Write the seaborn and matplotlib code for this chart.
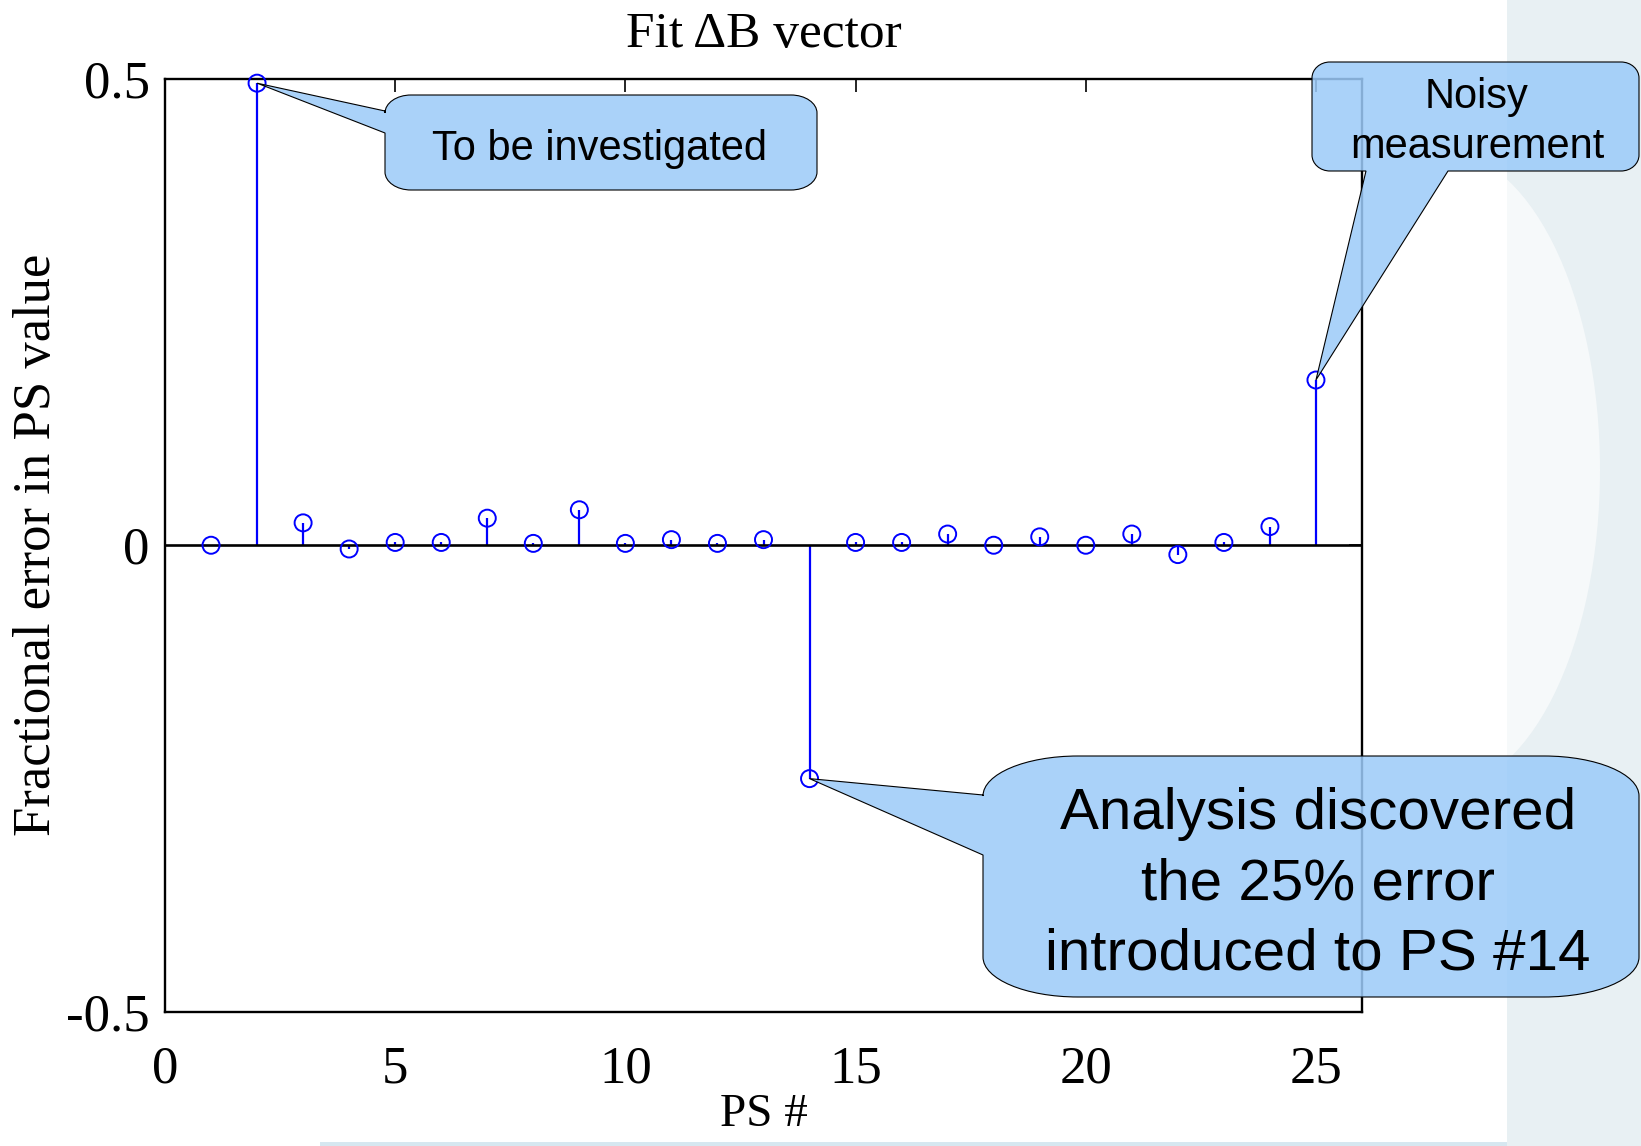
import numpy as np
import pandas as pd
import matplotlib
matplotlib.use("Agg")
import matplotlib.pyplot as plt
import seaborn as sns
from matplotlib.path import Path
from matplotlib.patches import PathPatch, Rectangle, Ellipse
from matplotlib.transforms import IdentityTransform
from matplotlib.colors import to_rgba

# ---------------- data ----------------
ps_index = list(range(1, 26))
frac_error = [0.000, 0.495, 0.024, -0.004, 0.003, 0.003, 0.029, 0.002, 0.038, 0.002,
              0.006, 0.002, 0.006, -0.250, 0.003, 0.003, 0.012, 0.000, 0.009, 0.000,
              0.012, -0.010, 0.003, 0.020, 0.177]
x_ticks = [0, 5, 10, 15, 20, 25]
y_ticks = [-0.5, 0, 0.5]
y_tick_labels = ["-0.5", "0", "0.5"]
title_text = "Fit ΔB vector"
x_label = "PS #"
y_label = "Fractional error in PS value"
note_top = "To be investigated"
note_right = ["Noisy", "measurement"]
note_big = ["Analysis discovered", "the 25% error", "introduced to PS #14"]

# ---------------- style ----------------
sns.set_style("white")
plt.rcParams['font.family'] = ['Liberation Serif', 'DejaVu Serif']

W, H = 1641, 1146
fig = plt.figure(figsize=(W / 100, H / 100), dpi=100)
fig.patch.set_facecolor("white")

AX_L, AX_R, AX_T, AX_B = 165, 1362, 78.5, 1012
ax = fig.add_axes([AX_L / W, 1 - AX_B / H, (AX_R - AX_L) / W, (AX_B - AX_T) / H])
ax.set_facecolor("white")

df = pd.DataFrame({"ps": ps_index, "err": frac_error})
ax.vlines(df["ps"], 0, df["err"], color="#0000ff", lw=1.6, zorder=2)
ax.axhline(0, color="black", lw=1.9, zorder=3)
sns.scatterplot(data=df, x="ps", y="err", ax=ax, marker="o", s=150,
                zorder=4, clip_on=False, legend=False)
coll = ax.collections[-1]
coll.set_facecolor("none")
coll.set_edgecolor("#0000ff")
coll.set_linewidth(1.4)

ax.set_xlim(0, 26)
ax.set_ylim(-0.5, 0.5)
ax.set_xticks(x_ticks)
ax.set_xticklabels([str(t) for t in x_ticks])
ax.set_yticks(y_ticks)
ax.set_yticklabels(y_tick_labels)
ax.tick_params(axis="x", direction="in", length=9.5, width=1.2, top=True,
               labelsize=38, pad=24, colors="black")
ax.tick_params(axis="y", direction="in", length=9.5, width=1.2, right=True,
               labelsize=38, pad=11, colors="black")
for sp in ax.spines.values():
    sp.set_visible(True)
    sp.set_color("black")
    sp.set_linewidth(1.7)

ax.set_title(title_text, fontsize=37, pad=23, color="black")
ax.set_xlabel(x_label, fontsize=34, color="black")
ax.set_ylabel(y_label, fontsize=38, color="black")
ax.xaxis.set_label_coords(0.5, -0.0868)
ax.yaxis.set_label_coords(-0.0873, 0.5)

# ---------------- background decoration ----------------
panel = Rectangle((1507, 0), W - 1507, H, transform=IdentityTransform(),
                  facecolor="#e8f0f3", edgecolor="none", zorder=-3)
fig.add_artist(panel)
swoosh = Ellipse((1440, H - 470), 320, 640, transform=IdentityTransform(),
                 facecolor="#f6f9fa", edgecolor="none", zorder=-2)
swoosh.set_clip_path(panel)
fig.add_artist(swoosh)
strip = Rectangle((320, 0), 1507 - 320, 4, transform=IdentityTransform(),
                  facecolor="#d6e7f0", edgecolor="none", zorder=-1)
fig.add_artist(strip)

# ---------------- callouts ----------------
FILL = to_rgba("#9ccbf9", 0.86)
K = 0.5523


def callout(x0, top, x1, bottom, rx, ry, side, a, b, tip):
    Y0, Y1 = H - bottom, H - top
    tx, ty = tip
    V, C = [], []

    def mv(p):
        V.append(p); C.append(Path.MOVETO)

    def ln(p):
        V.append(p); C.append(Path.LINETO)

    def cv(p1, p2, p3):
        V.extend([p1, p2, p3]); C.extend([Path.CURVE4] * 3)

    mv((x0 + rx, Y0))
    if side == "bottom":
        ln((a, Y0)); ln((tx, ty)); ln((b, Y0))
    ln((x1 - rx, Y0))
    cv((x1 - rx + K * rx, Y0), (x1, Y0 + ry - K * ry), (x1, Y0 + ry))
    ln((x1, Y1 - ry))
    cv((x1, Y1 - ry + K * ry), (x1 - rx + K * rx, Y1), (x1 - rx, Y1))
    ln((x0 + rx, Y1))
    cv((x0 + rx - K * rx, Y1), (x0, Y1 - ry + K * ry), (x0, Y1 - ry))
    if side == "left":
        ln((x0, H - a)); ln((tx, ty)); ln((x0, H - b))
    ln((x0, Y0 + ry))
    cv((x0, Y0 + ry - K * ry), (x0 + rx - K * rx, Y0), (x0 + rx, Y0))
    V.append((x0 + rx, Y0)); C.append(Path.CLOSEPOLY)
    patch = PathPatch(Path(V, C), transform=IdentityTransform(),
                      facecolor=FILL, edgecolor="black", lw=0.8, zorder=8)
    fig.add_artist(patch)


def tip_of(i):
    return tuple(ax.transData.transform((ps_index[i], frac_error[i])))


callout(385, 95, 817, 190, 26, 18, "left", 111, 133, tip_of(1))
callout(1312, 62, 1639, 171, 18, 16, "bottom", 1366, 1448, tip_of(24))
callout(983, 756, 1639, 997, 95, 40, "left", 795, 855, tip_of(13))

SANS = ["Liberation Sans", "DejaVu Sans"]


def ftext(x, y_base, s, size):
    fig.text(x / W, 1 - y_base / H, s, ha="center", va="baseline",
             fontsize=size, family=SANS, color="black", zorder=10)


ftext(599, 160, note_top, 30)
ftext(1477, 108, note_right[0], 30)
ftext(1477, 158, note_right[1], 30)
for line, yb in zip(note_big, [829, 899, 969]):
    ftext(1318, yb, line, 42)

fig.savefig("out.png", dpi=100)
